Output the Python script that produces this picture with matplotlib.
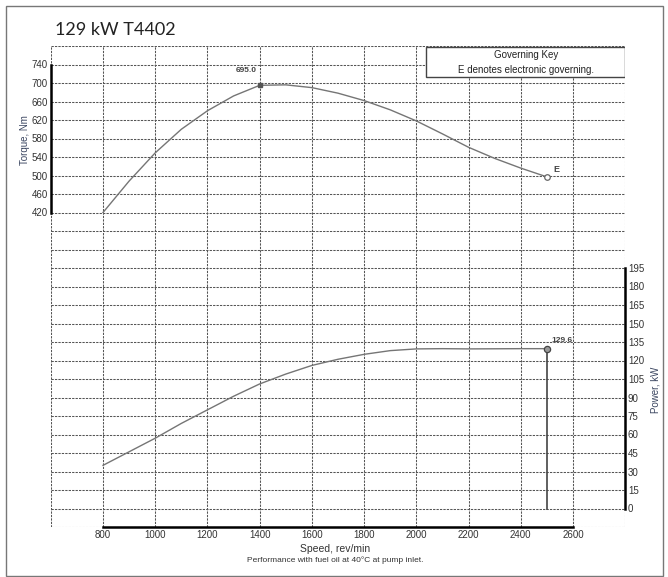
import matplotlib
matplotlib.use("Agg")
import numpy as np
import matplotlib.pyplot as plt
from matplotlib.ticker import FixedLocator, MultipleLocator, FuncFormatter
from matplotlib.patches import Rectangle

# ---- data ----
speed = [800, 900, 1000, 1100, 1200, 1300, 1400, 1500, 1600, 1700, 1800, 1900,
         2000, 2100, 2200, 2300, 2400, 2500]
torque = [420, 488, 549, 600, 640, 672, 695, 696, 690, 678, 662, 642,
          618, 590, 561, 537, 516, 497]
power = [35, 46, 57, 69, 80, 91, 101, 109, 116, 121, 125, 128,
         129.4, 129.6, 129.4, 129.5, 129.6, 129.6]
peak_torque_speed = 1400
peak_torque = 695.0
rated_speed = 2500
rated_power = 129.6
title = "129 kW T4402"
key_title = "Governing Key"
key_text = "E denotes electronic governing."
x_label = "Speed, rev/min"
note = "Performance with fuel oil at 40\u00b0C at pump inlet."
torque_label = "Torque, Nm"
power_label = "Power, kW"

NARROW = ['Liberation Sans Narrow', 'Liberation Sans', 'DejaVu Sans']
SANS = ['Liberation Sans', 'DejaVu Sans']

W, H = 668, 577
fig = plt.figure(figsize=(W / 100, H / 100), dpi=100)
fig.patch.set_facecolor('white')

def fx(px):
    return px / W

def fy(py):
    return 1 - py / H

left, right, top, bottom = 50.8, 625.2, 46, 527
ax = fig.add_axes([fx(left), fy(bottom), fx(right - left), (bottom - top) / H])
ax.set_xlim(600, 2800)
ax.set_ylim(-260, 780)
ax.xaxis.set_major_locator(MultipleLocator(200))
ax.yaxis.set_major_locator(FixedLocator(np.arange(-260, 781, 40)))
ax.xaxis.set_major_formatter(FuncFormatter(lambda v, p: f"{v:.0f}" if 800 <= v <= 2600 else ""))
ax.yaxis.set_major_formatter(FuncFormatter(lambda v, p: f"{v:.0f}" if 420 <= v <= 740 else ""))
ax.grid(True, color='#555555', linestyle=(0, (2.2, 1.1)), linewidth=0.75)
ax.set_axisbelow(True)
for s in ['top', 'right']:
    ax.spines[s].set_visible(False)
ax.spines['left'].set_bounds(420, 740)
ax.spines['left'].set_linewidth(1.8)
ax.spines['bottom'].set_bounds(800, 2600)
ax.spines['bottom'].set_linewidth(1.8)
ax.tick_params(length=0, pad=2, labelsize=7, colors='#333333')
for lab in ax.get_xticklabels() + ax.get_yticklabels():
    lab.set_family(NARROW)

ax2 = ax.twinx()
ax2.set_ylim(-15, 375)
ax2.yaxis.set_major_locator(FixedLocator(np.arange(-15, 376, 15)))
ax2.yaxis.set_major_formatter(FuncFormatter(lambda v, p: f"{v:.0f}" if 0 <= v <= 195 else ""))
for s in ['top', 'left', 'bottom']:
    ax2.spines[s].set_visible(False)
ax2.spines['right'].set_bounds(0, 195)
ax2.spines['right'].set_linewidth(1.8)
ax2.tick_params(length=0, pad=2, labelsize=7, colors='#333333')
for lab in ax2.get_yticklabels():
    lab.set_family(NARROW)

# torque curve
ax.plot(speed, torque, color='#757575', lw=1.0, zorder=3)
ax.plot([peak_torque_speed], [peak_torque], marker='s', ms=2.5, color='#555555', zorder=4)
ax.plot([speed[-1]], [torque[-1]], marker='o', ms=4, mfc='white', mec='#666666', mew=0.9, zorder=4)
ax.annotate(f"{peak_torque:.1f}", (peak_torque_speed, peak_torque), xytext=(-2, 8),
            textcoords='offset points', ha='right', va='bottom', fontsize=6,
            fontweight='bold', color='#444444', family=NARROW)
ax.annotate("E", (speed[-1], torque[-1]), xytext=(5, 2), textcoords='offset points',
            ha='left', va='bottom', fontsize=6.5, fontweight='bold', color='#444444',
            family=SANS)

# power curve
ax2.plot(speed, power, color='#757575', lw=1.0, zorder=3)
ax2.plot([rated_speed, rated_speed], [rated_power, 0], color='#444444', lw=1.2, zorder=3)
ax2.plot([rated_speed], [rated_power], marker='o', ms=4.5, mfc='#999999', mec='#444444', mew=0.9, zorder=4)
ax2.annotate(f"{rated_power:.1f}", (rated_speed, rated_power), xytext=(3, 3),
             textcoords='offset points', ha='left', va='bottom', fontsize=6,
             fontweight='bold', color='#444444', family=NARROW)

# governing key box
ax2.add_patch(Rectangle((0.653, 0.9356), 0.347, 0.0624, transform=ax2.transAxes,
                        facecolor='white', edgecolor='#444444', lw=1.0, zorder=5))
ax2.text(0.827, 0.981, key_title, transform=ax2.transAxes, ha='center', va='center',
         fontsize=7, color='#222222', family=NARROW, zorder=6)
ax2.text(0.827, 0.950, key_text, transform=ax2.transAxes, ha='center', va='center',
         fontsize=7, color='#222222', family=NARROW, zorder=6)

# labels
fig.text(fx(25), fy(140), torque_label, rotation=90, ha='center', va='center',
         fontsize=7, color='#3a4560', family=NARROW)
fig.text(fx(655), fy(390), power_label, rotation=90, ha='center', va='center',
         fontsize=7, color='#3a4560', family=NARROW)
fig.text(fx(335), fy(549), x_label, ha='center', va='center', fontsize=7.5,
         color='#333333', family=NARROW)
fig.text(fx(335), fy(560), note, ha='center', va='center', fontsize=6,
         color='#333333', family=NARROW)
fig.text(fx(55), fy(30), title, ha='left', va='center', fontsize=13,
         color='#222222', family=['Lato', 'DejaVu Sans'])

# outer border
fig.add_artist(Rectangle((fx(6), fy(576)), fx(657), (570) / H, transform=fig.transFigure,
                         facecolor='none', edgecolor='#777777', lw=1.0))

fig.savefig('out.png', dpi=100)
